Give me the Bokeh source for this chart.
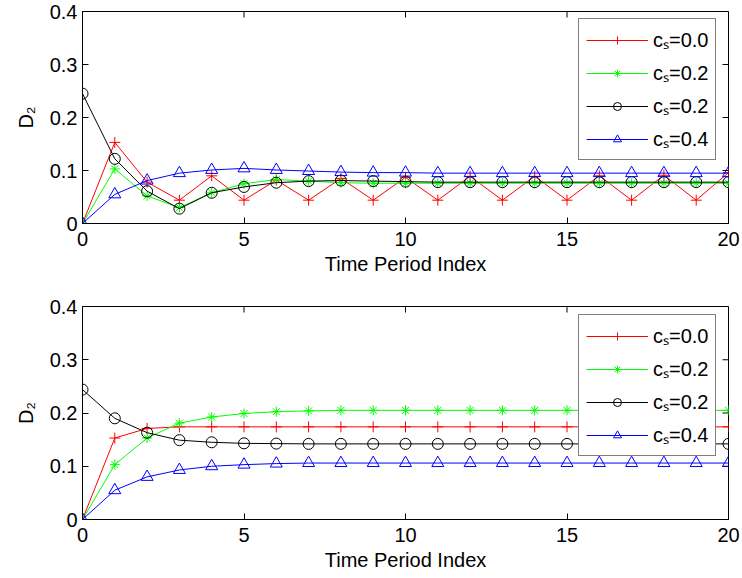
import math
from bokeh.plotting import figure
from bokeh.models import Range1d, FixedTicker, Legend, LegendItem
from bokeh.layouts import column
from bokeh.embed import file_html
from bokeh.resources import INLINE

# ---------------- data ----------------
periods = list(range(21))

top_cs00 = [0.0, 0.153, 0.078, 0.044, 0.090, 0.044, 0.082, 0.044, 0.085, 0.044, 0.087,
            0.044, 0.089, 0.044, 0.089, 0.044, 0.090, 0.044, 0.091, 0.044, 0.096]
top_cs02a = [0.0, 0.103, 0.052, 0.030, 0.058, 0.075, 0.083, 0.080, 0.077, 0.076, 0.076,
             0.076, 0.076, 0.076, 0.076, 0.076, 0.076, 0.076, 0.076, 0.076, 0.076]
top_cs02b = [0.245, 0.122, 0.061, 0.028, 0.058, 0.069, 0.077, 0.080, 0.081, 0.080, 0.079,
             0.078, 0.078, 0.078, 0.078, 0.078, 0.078, 0.078, 0.078, 0.078, 0.078]
top_cs04 = [0.0, 0.055, 0.081, 0.095, 0.101, 0.104, 0.101, 0.099, 0.097, 0.096, 0.096,
            0.095, 0.095, 0.095, 0.095, 0.095, 0.095, 0.095, 0.095, 0.095, 0.095]

bot_cs00 = [0.0, 0.153, 0.171, 0.174, 0.174, 0.174, 0.174, 0.174, 0.174, 0.174, 0.174,
            0.174, 0.174, 0.174, 0.174, 0.174, 0.174, 0.174, 0.174, 0.174, 0.174]
bot_cs02a = [0.0, 0.103, 0.153, 0.181, 0.1925, 0.199, 0.2025, 0.204, 0.205, 0.205, 0.205,
             0.205, 0.205, 0.205, 0.205, 0.205, 0.205, 0.205, 0.205, 0.205, 0.205]
bot_cs02b = [0.244, 0.190, 0.163, 0.149, 0.145, 0.143, 0.1425, 0.142, 0.142, 0.142, 0.142,
             0.142, 0.142, 0.142, 0.142, 0.142, 0.142, 0.142, 0.142, 0.142, 0.142]
bot_cs04 = [0.0, 0.055, 0.080, 0.093, 0.100, 0.103, 0.105, 0.106, 0.106, 0.106, 0.106,
            0.106, 0.106, 0.106, 0.106, 0.106, 0.106, 0.106, 0.106, 0.106, 0.106]

series_labels = ["c\u209b=0.0", "c\u209b=0.2", "c\u209b=0.2", "c\u209b=0.4"]
x_ticks = [0, 5, 10, 15, 20]
y_ticks = [0, 0.1, 0.2, 0.3, 0.4]
y_tick_labels = {0: "0", 0.1: "0.1", 0.2: "0.2", 0.3: "0.3", 0.4: "0.4"}
x_label = "Time Period Index"
y_label = "D\u2082"

X_MIN, X_MAX = 0, 20
Y_MIN, Y_MAX = 0, 0.4

FONT = "Liberation Sans"
FS = "20px"


def style_axis(ax, ticks):
    ax.ticker = FixedTicker(ticks=ticks)
    ax.major_tick_in = 6
    ax.major_tick_out = 0
    ax.minor_tick_in = 0
    ax.minor_tick_out = 0
    ax.axis_line_color = "black"
    ax.axis_line_width = 1
    ax.major_tick_line_color = "black"
    ax.major_label_text_font = FONT
    ax.major_label_text_color = "black"
    ax.major_label_text_font_size = FS
    ax.axis_label_text_font = FONT
    ax.axis_label_text_font_style = "normal"
    ax.axis_label_text_color = "black"
    ax.axis_label_text_font_size = FS


def make_panel(ys, top_border, bottom_border, height):
    p = figure(width=742, height=height, output_backend="svg", toolbar_location=None,
               x_range=Range1d(X_MIN, X_MAX), y_range=Range1d(Y_MIN, Y_MAX),
               min_border_left=82, min_border_right=14,
               min_border_top=top_border, min_border_bottom=bottom_border)
    p.grid.visible = False
    p.outline_line_color = "black"
    p.outline_line_width = 1
    p.background_fill_color = "white"
    p.border_fill_color = "white"

    xa = p.xaxis[0]
    ya = p.yaxis[0]
    style_axis(xa, x_ticks)
    style_axis(ya, y_ticks)
    xa.axis_label = x_label
    ya.axis_label = y_label
    xa.major_label_standoff = 8
    xa.axis_label_standoff = 4
    ya.major_label_standoff = 5
    ya.axis_label_standoff = 10
    ya.major_label_overrides = y_tick_labels

    # mirrored inward ticks on the top and right edges of the box
    p.ray(x=x_ticks, y=[Y_MAX] * len(x_ticks), length=6, length_units="screen",
          angle=-math.pi / 2, line_color="black", line_width=1)
    p.ray(x=[X_MAX] * len(y_ticks), y=y_ticks, length=6, length_units="screen",
          angle=math.pi, line_color="black", line_width=1)

    colors = ["#ff0000", "#00ff00", "#000000", "#0000ff"]
    markers = ["cross", "asterisk", "circle", "triangle"]
    sizes = [11, 10, 11, 12]
    items = []
    for yv, c, m, s, lab in zip(ys, colors, markers, sizes, series_labels):
        ln = p.line(periods, yv, line_color=c, line_width=1)
        sc = p.scatter(periods, yv, marker=m, size=s, line_color=c, fill_color=None,
                       line_width=1)
        items.append(LegendItem(label=lab, renderers=[ln, sc]))

    leg = Legend(items=items, location=(496, 63))
    leg.border_line_color = "black"
    leg.border_line_width = 1
    leg.background_fill_color = "white"
    leg.background_fill_alpha = 1
    leg.label_text_font = FONT
    leg.label_text_font_size = FS
    leg.label_text_color = "black"
    leg.glyph_width = 62
    leg.glyph_height = 20
    leg.label_height = 20
    leg.label_standoff = 5
    leg.spacing = 6
    leg.padding = 7
    leg.margin = 0
    p.add_layout(leg)
    return p


p1 = make_panel([top_cs00, top_cs02a, top_cs02b, top_cs04], 11, 66, 289)
p2 = make_panel([bot_cs00, bot_cs02a, bot_cs02b, bot_cs04], 17, 59, 289)

layout = column(p1, p2, spacing=0)

open("out.html", "w").write(file_html(layout, INLINE))
